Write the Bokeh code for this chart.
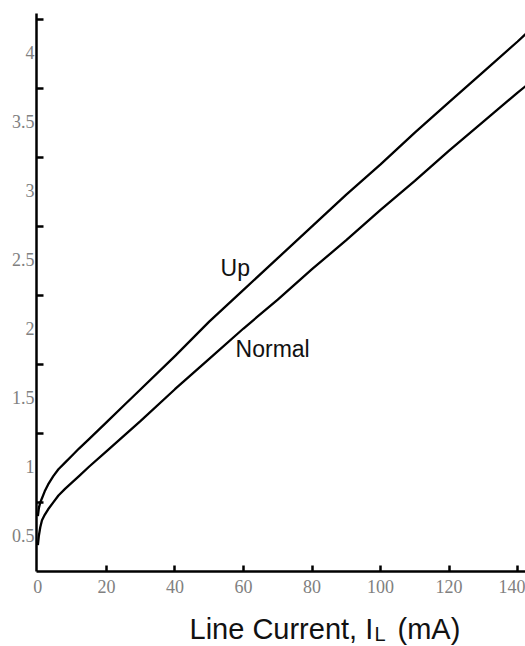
from bokeh.plotting import figure
from bokeh.models import FixedTicker, ColumnDataSource
from bokeh.layouts import column
from bokeh.core.properties import value
from bokeh.embed import file_html
from bokeh.resources import INLINE

# ---- data ----
current = [0, 0.3, 0.7, 1.2, 2, 3, 4.5, 6, 8, 10, 12, 15, 20, 25, 30, 40, 50, 60,
           70, 80, 90, 100, 110, 120, 130, 140, 143]
up = [0.64, 0.70, 0.74, 0.77, 0.82, 0.87, 0.93, 0.98, 1.03, 1.08, 1.13, 1.20,
      1.32, 1.44, 1.56, 1.80, 2.05, 2.28, 2.51, 2.74, 2.97, 3.19, 3.42, 3.64,
      3.86, 4.08, 4.15]
normal = [0.43, 0.50, 0.56, 0.61, 0.65, 0.69, 0.74, 0.79, 0.84, 0.885, 0.93, 1.00,
          1.11, 1.22, 1.33, 1.56, 1.78, 2.00, 2.21, 2.43, 2.64, 2.86, 3.07, 3.29,
          3.50, 3.71, 3.77]

x_tick_values = [0, 20, 40, 60, 80, 100, 120, 140]
x_tick_marks = [20, 40, 60, 80, 100, 120, 140]
y_tick_values = [0.5, 1, 1.5, 2, 2.5, 3, 3.5, 4]
y_tick_labels = ["0.5", "1", "1.5", "2", "2.5", "3", "3.5", "4"]
y_tick_marks = [0.74, 1.24, 1.74, 2.24, 2.74, 3.24, 3.74, 4.24]

series_names = ["Up", "Normal"]
series_label_x = [53.3, 57.7]
series_label_y = [2.44, 1.85]

title_parts = ["Line Current, I", "L", " (mA)"]

W = 525
LEFT = 36
p = figure(width=W, height=600, output_backend="svg", toolbar_location=None,
           x_range=(-0.4, 142.3), y_range=(0.239, 4.283),
           min_border_left=LEFT, min_border_right=0, min_border_top=13,
           min_border_bottom=29)
p.outline_line_color = None
p.xgrid.visible = False
p.ygrid.visible = False

src = ColumnDataSource(dict(x=current, up=up, normal=normal))
p.line("x", "up", source=src, line_color="black", line_width=2.3, line_join="round")
p.line("x", "normal", source=src, line_color="black", line_width=2.3, line_join="round")

lab_src = ColumnDataSource(dict(x=series_label_x, y=series_label_y, t=series_names))
p.text("x", "y", text="t", source=lab_src, text_font=value("Liberation Sans"),
       text_font_size="23px", text_color="#111111", text_baseline="alphabetic",
       text_align="left")

# x axis
xa = p.xaxis[0]
xa.ticker = FixedTicker(ticks=x_tick_values, minor_ticks=x_tick_marks)
xa.axis_line_width = 2.5
xa.axis_line_color = "black"
xa.major_tick_in = 0
xa.major_tick_out = 0
xa.minor_tick_in = 6
xa.minor_tick_out = 0
xa.minor_tick_line_width = 2.5
xa.minor_tick_line_color = "black"
xa.major_label_text_font = "Liberation Serif"
xa.major_label_text_font_size = "18px"
xa.major_label_text_color = "#808080"
xa.major_label_standoff = 8

# y axis
ya = p.yaxis[0]
ya.ticker = FixedTicker(ticks=y_tick_values, minor_ticks=y_tick_marks)
ya.major_label_overrides = {v: t for v, t in zip(y_tick_values, y_tick_labels)}
ya.axis_line_width = 2.5
ya.axis_line_color = "black"
ya.major_tick_in = 0
ya.major_tick_out = 0
ya.minor_tick_in = 7
ya.minor_tick_out = 0
ya.minor_tick_line_width = 2.5
ya.minor_tick_line_color = "black"
ya.major_label_text_font = "Liberation Serif"
ya.major_label_text_font_size = "18px"
ya.major_label_text_color = "#808080"
ya.major_label_standoff = 2

# axis title strip (with subscript) below the plot; frame aligned with p,
# so its x range is given in page pixels from LEFT to W
H2 = 46
p2 = figure(width=W, height=H2, output_backend="svg", toolbar_location=None,
            x_range=(LEFT, W), y_range=(0, H2), x_axis_type=None, y_axis_type=None,
            min_border=0, min_border_left=LEFT, min_border_right=0)
p2.outline_line_color = None
p2.xgrid.visible = False
p2.ygrid.visible = False
t_src = ColumnDataSource(dict(x=[189, 374, 397], y=[18, 13, 18], t=title_parts,
                              fs=["29px", "20px", "29px"]))
p2.text("x", "y", text="t", source=t_src, text_font=value("Liberation Sans"),
        text_font_size="fs", text_color="#111111", text_baseline="alphabetic",
        text_align="left")

layout = column(p, p2, spacing=0)
open("out.html", "w").write(file_html(layout, INLINE))
